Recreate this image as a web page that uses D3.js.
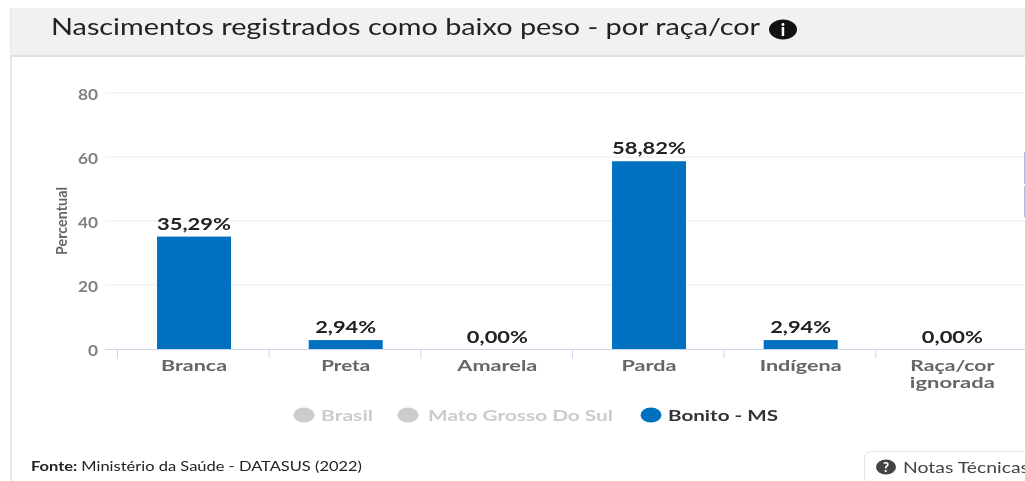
<!DOCTYPE html>
<html>
<head>
<meta charset="utf-8">
<script src="https://cdn.jsdelivr.net/npm/d3@7"></script>
<style>
  html, body { margin: 0; padding: 0; background: #fff; overflow: hidden; }
  svg { display: block; font-family: Lato, sans-serif; filter: blur(0.35px); }
</style>
</head>
<body>
<svg id="chart"></svg>
<script>
const categories = ["Branca", "Preta", "Amarela", "Parda", "Indígena", "Raça/cor ignorada"];
const values = [35.29, 2.94, 0, 58.82, 2.94, 0];
const yTicks = [0, 20, 40, 60, 80];
const legendItems = ["Brasil", "Mato Grosso Do Sul", "Bonito - MS"];
const legendColors = ["#cccccc", "#cccccc", "#0070c0"];
const legendTextColors = ["#cccccc", "#cccccc", "#333333"];

const width = 1025;
const height = 481;
const blue = "#0070c0";

const svg = d3.select("#chart").attr("width", width).attr("height", height);

// stretched text, the screenshot is wider than the original page
function fitText(sel, len) {
    return sel.attr("textLength", len).attr("lengthAdjust", "spacingAndGlyphs");
}

// card and header
svg.append("rect").attr("x", 10).attr("y", 8).attr("width", 2).attr("height", 473).attr("fill", "#e6e6e6");
svg.append("rect").attr("x", 11).attr("y", 8).attr("width", 1014).attr("height", 47).attr("fill", "#f1f1f1");
svg.append("rect").attr("x", 11).attr("y", 55).attr("width", 1014).attr("height", 2).attr("fill", "#e0e0e0");

svg.append("text").attr("x", 51).attr("y", 35)
    .attr("font-size", 23).attr("fill", "#222")
    .call(fitText, 709)
    .text("Nascimentos registrados como baixo peso - por raça/cor");

svg.append("ellipse").attr("cx", 783).attr("cy", 29.5).attr("rx", 14).attr("ry", 10).attr("fill", "#111");
svg.append("text").attr("x", 783).attr("y", 35.5).attr("text-anchor", "middle")
    .attr("font-size", 17).attr("font-weight", 900).attr("fill", "#fff").text("i");

const x = d3.scaleBand().domain(categories).range([117.5, 1027.5]);
const y = d3.scaleLinear().domain([0, 80]).range([349.5, 93.5]);
const barW = 74;

// grid
svg.append("g").selectAll("line").data(yTicks.filter(d => d > 0)).enter().append("line")
    .attr("x1", 105).attr("x2", width)
    .attr("y1", d => y(d) - 0.5).attr("y2", d => y(d) - 0.5)
    .attr("stroke", "#e9ebf0").attr("stroke-width", 1);

// y labels
svg.append("g").selectAll("text").data(yTicks).enter().append("text")
    .attr("x", 98).attr("y", d => y(d) + 6)
    .attr("text-anchor", "end").attr("font-size", 15).attr("font-weight", 700).attr("fill", "#808080")
    .each(function (d) { fitText(d3.select(this), d === 0 ? 10 : 20); })
    .text(d => d);

svg.append("text")
    .attr("transform", "translate(67,221) rotate(-90)")
    .attr("text-anchor", "middle").attr("font-size", 16).attr("font-weight", 700).attr("fill", "#666")
    .call(fitText, 68)
    .text("Percentual");

// bars
svg.append("g").selectAll("rect").data(values).enter().append("rect")
    .attr("x", (d, i) => x(categories[i]) + x.bandwidth() / 2 - barW / 2 + 0.7)
    .attr("y", d => y(d))
    .attr("width", barW)
    .attr("height", d => y(0) - y(d))
    .attr("fill", blue);

// x axis
svg.append("line").attr("x1", 105).attr("x2", width).attr("y1", y(0)).attr("y2", y(0))
    .attr("stroke", "#ccd6eb").attr("stroke-width", 1);
svg.append("g").selectAll("line").data(categories).enter().append("line")
    .attr("x1", d => x(d)).attr("x2", d => x(d))
    .attr("y1", y(0)).attr("y2", y(0) + 9)
    .attr("stroke", "#ccd6eb").attr("stroke-width", 1);

// value labels
const fmt = d => d.toFixed(2).replace(".", ",") + "%";
svg.append("g").selectAll("text").data(values).enter().append("text")
    .attr("x", (d, i) => x(categories[i]) + x.bandwidth() / 2 + 0.7)
    .attr("y", d => y(d) - 7)
    .attr("text-anchor", "middle").attr("font-size", 17).attr("font-weight", 700).attr("fill", "#222")
    .each(function (d) { fitText(d3.select(this), d >= 10 ? 74 : 61); })
    .text(fmt);

// category labels
const catWidths = { "Branca": 66, "Preta": 49, "Amarela": 80, "Parda": 55, "Indígena": 82, "Raça/cor": 84, "ignorada": 85 };
const catLabels = svg.append("g").selectAll("text").data(categories).enter().append("text")
    .attr("text-anchor", "middle").attr("font-size", 16).attr("font-weight", 700).attr("fill", "#666");
catLabels.each(function (d) {
    const t = d3.select(this);
    const cx = x(d) + x.bandwidth() / 2 + 0.7;
    const parts = d === "Raça/cor ignorada" ? ["Raça/cor", "ignorada"] : [d];
    parts.forEach((p, i) => {
        t.append("tspan").attr("x", cx).attr("y", 371 + i * 17)
            .attr("textLength", catWidths[p]).attr("lengthAdjust", "spacingAndGlyphs").text(p);
    });
});

// legend
const legendX = [304, 408, 651];
const legendTextX = [321, 428, 668];
const legendTextW = [52, 185, 110];
const legend = svg.append("g");
legendItems.forEach((name, i) => {
    legend.append("ellipse").attr("cx", legendX[i]).attr("cy", 415).attr("rx", 10.5).attr("ry", 7.5)
        .attr("fill", legendColors[i]);
    legend.append("text").attr("x", legendTextX[i]).attr("y", 421)
        .attr("font-size", 16).attr("font-weight", 700).attr("fill", legendTextColors[i])
        .call(fitText, legendTextW[i])
        .text(name);
});

// source
const fonte = svg.append("text").attr("x", 31).attr("y", 471).attr("font-size", 14).attr("fill", "#222")
    .call(fitText, 331);
fonte.append("tspan").attr("font-weight", 700).text("Fonte: ");
fonte.append("tspan").text("Ministério da Saúde - DATASUS (2022)");

// button cut by the window edge
svg.append("rect").attr("x", 864.5).attr("y", 451.5).attr("width", 190).attr("height", 40).attr("rx", 7)
    .attr("fill", "#fff").attr("stroke", "#e4e4e4");
svg.append("ellipse").attr("cx", 886).attr("cy", 467).attr("rx", 10).attr("ry", 7.5).attr("fill", "#444");
svg.append("text").attr("x", 886).attr("y", 472).attr("text-anchor", "middle")
    .attr("font-size", 13).attr("font-weight", 900).attr("fill", "#fff").text("?");
svg.append("text").attr("x", 903).attr("y", 473).attr("font-size", 16).attr("fill", "#444")
    .call(fitText, 126)
    .text("Notas Técnicas");

// cut off control at the right edge
svg.append("rect").attr("x", 1024).attr("y", 152).attr("width", 1).attr("height", 32).attr("fill", "#a9bedd");
svg.append("rect").attr("x", 1024).attr("y", 186).attr("width", 1).attr("height", 31).attr("fill", "#a9bedd");
</script>
</body>
</html>
